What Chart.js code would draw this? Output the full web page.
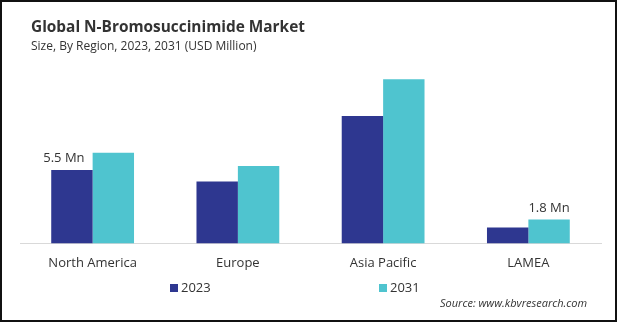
<!DOCTYPE html>
<html>
<head>
<meta charset="utf-8">
<script src="https://cdn.jsdelivr.net/npm/chart.js@4/dist/chart.umd.min.js"></script>
<style>
  html, body { margin: 0; padding: 0; background: #fff; }
  #wrap { position: relative; width: 619px; height: 322px; font-family: "Open Sans", sans-serif; color: #333; }
  #frame { position: absolute; left: 0; top: 0; width: 613px; height: 318px; border: 2px solid #111; }
  #chart { position: absolute; left: 0; top: 0; }
  .title { position: absolute; left: 31px; top: 16px; font-size: 15.4px; font-weight: bold; color: #333; white-space: nowrap; }
  .subtitle { position: absolute; left: 31px; top: 37px; font-size: 12px; color: #333; white-space: nowrap; }
  .legend-item { position: absolute; top: 278px; font-size: 13px; color: #333; white-space: nowrap; }
  .legend-item span { display: inline-block; width: 8px; height: 8px; margin-right: 3px; vertical-align: 0px; }
  .source { position: absolute; left: 440px; top: 295px; font-size: 11px; font-style: italic; color: #333; white-space: nowrap; }
</style>
</head>
<body>
<div id="wrap">
  <canvas id="chart" width="619" height="322"></canvas>
  <div id="frame"></div>
  <div class="title">Global N-Bromosuccinimide Market</div>
  <div class="subtitle">Size, By Region, 2023, 2031 (USD Million)</div>
  <div class="legend-item" style="left:170px"><span style="background:#2E3790"></span>2023</div>
  <div class="legend-item" style="left:379px"><span style="background:#4FC4CF"></span>2031</div>
  <div class="source">Source: www.kbvresearch.com</div>
</div>
<script>
// Data
const regions = ["North America", "Europe", "Asia Pacific", "LAMEA"];
const values2023 = [5.5, 4.65, 9.55, 1.2];
const values2031 = [6.8, 5.8, 12.3, 1.8];
const seriesNames = ["2023", "2031"];

// Only two bars carry a value label in the reference
const labelNotes = [
    { dataset: 0, index: 0, text: "5.5 Mn" },
    { dataset: 1, index: 3, text: "1.8 Mn" }
];

const valueLabels = {
    id: "valueLabels",
    afterDatasetsDraw(chart) {
        const ctx = chart.ctx;
        ctx.save();
        ctx.font = "13px 'Open Sans', sans-serif";
        ctx.fillStyle = "#333";
        ctx.textAlign = "center";
        ctx.textBaseline = "bottom";
        labelNotes.forEach(n => {
            const bar = chart.getDatasetMeta(n.dataset).data[n.index];
            ctx.fillText(n.text, bar.x - (n.dataset === 0 ? 8 : 0), bar.y - 5);
        });
        ctx.restore();
    }
};

const ctx = document.getElementById("chart").getContext("2d");
new Chart(ctx, {
    type: "bar",
    data: {
        labels: regions,
        datasets: [
            { label: seriesNames[0], data: values2023, backgroundColor: "#2E3790" },
            { label: seriesNames[1], data: values2031, backgroundColor: "#4FC4CF" }
        ]
    },
    options: {
        responsive: false,
        animation: false,
        layout: { padding: { top: 70, left: 20, right: 18, bottom: 39 } },
        datasets: { bar: { barPercentage: 1, categoryPercentage: 0.57 } },
        scales: {
            x: {
                grid: { display: false, drawTicks: false },
                border: { display: true, color: "#d9d9d9", width: 1 },
                ticks: { padding: 12, color: "#333", font: { family: "'Open Sans', sans-serif", size: 13 } }
            },
            y: { display: false, min: 0, max: 13 }
        },
        plugins: {
            legend: { display: false },
            tooltip: { enabled: false }
        }
    },
    plugins: [valueLabels]
});
</script>
</body>
</html>
